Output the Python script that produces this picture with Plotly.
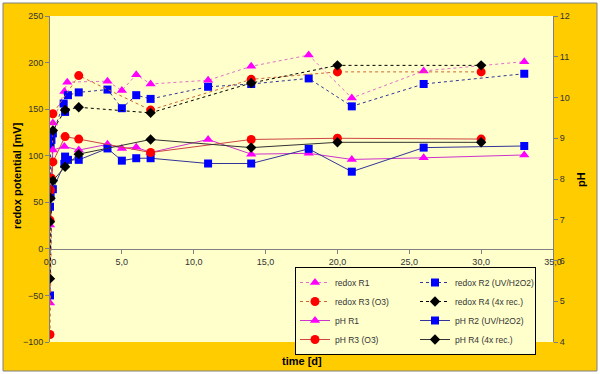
import plotly.graph_objects as go

# ---------------- data ----------------
redox_r1_t = [0, 0.2, 1.0, 1.2, 4, 5, 6, 7, 11, 14, 18, 21, 26, 33]
redox_r1 = [-58, 135, 169, 179, 180, 170, 187, 177, 181, 196, 208, 162, 191, 201]
redox_r2_t = [0, 0.04, 0.1, 0.2, 0.95, 1.05, 1.25, 2, 4, 5, 6, 7, 11, 14, 18, 21, 26, 33]
redox_r2 = [-50, 111, 117, 124, 156, 147, 165, 168, 171, 151, 165, 161, 174, 177, 183, 153, 177, 188]
redox_r3_t = [0, 0.2, 2, 7, 14, 20, 30]
redox_r3 = [-92, 145, 186, 149, 182, 190, 190]
redox_r4_t = [0, 0.2, 1.05, 2, 7, 14, 20, 30]
redox_r4 = [-32, 127, 149, 152, 146, 178, 197, 197]

ph_r1_t = [0, 0.2, 1.0, 2, 4, 5, 6, 7, 11, 14, 18, 21, 26, 33]
ph_r1 = [6.87, 8.71, 8.80, 8.71, 8.85, 8.75, 8.78, 8.65, 8.97, 8.61, 8.63, 8.48, 8.52, 8.59]
ph_r2_t = [0, 0.04, 0.2, 1.0, 1.05, 1.25, 2, 4, 5, 6, 7, 11, 14, 18, 21, 26, 33]
ph_r2 = [7.32, 7.57, 7.75, 8.37, 8.55, 8.47, 8.47, 8.75, 8.45, 8.51, 8.51, 8.38, 8.38, 8.74, 8.18, 8.77, 8.81]
ph_r3_t = [0, 0.04, 0.1, 0.2, 1.05, 2, 7, 14, 20, 30]
ph_r3 = [6.99, 7.73, 8.02, 8.42, 9.04, 8.98, 8.65, 8.97, 9.00, 8.98]
ph_r4_t = [0, 0.04, 0.2, 1.05, 2, 7, 14, 20, 30]
ph_r4 = [6.95, 7.53, 7.96, 8.30, 8.61, 8.97, 8.77, 8.90, 8.90]

names_redox = ["redox R1", "redox R2 (UV/H2O2)", "redox R3 (O3)", "redox R4 (4x rec.)"]
names_ph = ["pH R1", "pH R2 (UV/H2O2)", "pH R3 (O3)", "pH R4 (4x rec.)"]

# ---------------- styling ----------------
W, H = 600, 374
L, R, T, B = 50, 47, 16, 32
PW, PH = W - L - R, H - T - B

def px(x):
    return (x - L) / PW

def py(y):
    return (H - B - y) / PH

marker_colors = ["#FF00FF", "#0000FF", "#FF0000", "#000000"]
symbols = ["triangle-up", "square", "circle", "diamond"]
sizes = [9, 8, 9, 8]
redox_line_colors = ["#E070C8", "#333399", "#CC6633", "#000000"]
ph_line_colors = ["#CC33CC", "#333399", "#CC4444", "#333333"]
legend_cols = ["a", "b", "a", "b"]   # two legend columns

redox_t = [redox_r1_t, redox_r2_t, redox_r3_t, redox_r4_t]
redox_v = [redox_r1, redox_r2, redox_r3, redox_r4]
ph_t = [ph_r1_t, ph_r2_t, ph_r3_t, ph_r4_t]
ph_v = [ph_r1, ph_r2, ph_r3, ph_r4]

fig = go.Figure()
for i in range(4):
    fig.add_trace(go.Scatter(
        x=redox_t[i], y=redox_v[i], name=names_redox[i], mode="lines+markers",
        legendgroup=legend_cols[i],
        line=dict(color=redox_line_colors[i], width=1, dash="dot"),
        marker=dict(symbol=symbols[i], size=sizes[i], color=marker_colors[i],
                    line=dict(width=0)),
        yaxis="y"))
for i in range(4):
    fig.add_trace(go.Scatter(
        x=ph_t[i], y=ph_v[i], name=names_ph[i], mode="lines+markers",
        legendgroup=legend_cols[i],
        line=dict(color=ph_line_colors[i], width=1),
        marker=dict(symbol=symbols[i], size=sizes[i], color=marker_colors[i],
                    line=dict(width=0)),
        yaxis="y2"))

tickfont = dict(family="Liberation Sans, Arial", size=9, color="#333333")
titlefont = dict(family="Liberation Sans, Arial", size=11, color="#000000")

fig.update_layout(
    width=W, height=H, autosize=False,
    margin=dict(l=L, r=R, t=T, b=B, pad=0, autoexpand=False),
    paper_bgcolor="#FFCC00", plot_bgcolor="#FFFFCC",
    separators=", ",
    showlegend=True,
    xaxis=dict(range=[0, 35], dtick=5, tickformat=".1f", anchor="free",
               position=100 / 350, showline=True, linecolor="#808080", linewidth=1,
               ticks="outside", ticklen=4, tickcolor="#808080",
               showgrid=False, zeroline=False, tickfont=tickfont),
    yaxis=dict(range=[-100, 250], dtick=50, showline=True, linecolor="#808080",
               ticks="outside", ticklen=4, tickcolor="#808080",
               showgrid=False, zeroline=False, tickfont=tickfont),
    yaxis2=dict(range=[4, 12], dtick=1, overlaying="y", side="right",
                showline=True, linecolor="#808080", ticks="outside", ticklen=4,
                tickcolor="#808080", showgrid=False, zeroline=False, tickfont=tickfont),
    legend=dict(orientation="h", traceorder="grouped", x=px(295), y=py(267),
                xanchor="left", yanchor="top",
                bgcolor="#FFFFCC", bordercolor="#000000", borderwidth=1,
                font=dict(family="Liberation Sans, Arial", size=8.5, color="#333333"),
                entrywidth=75, entrywidthmode="pixels", itemwidth=30, tracegroupgap=0),
    annotations=[
        dict(text="<b>time [d]</b>", xref="paper", yref="paper", x=px(302), y=py(361),
             showarrow=False, font=titlefont, xanchor="center", yanchor="middle"),
        dict(text="<b>redox potential [mV]</b>", xref="paper", yref="paper", x=px(17), y=py(176),
             showarrow=False, font=titlefont, textangle=-90, xanchor="center", yanchor="middle"),
        dict(text="<b>pH</b>", xref="paper", yref="paper", x=px(581), y=py(180),
             showarrow=False, font=titlefont, textangle=-90, xanchor="center", yanchor="middle"),
    ],
    shapes=[
        dict(type="rect", xref="paper", yref="paper", x0=px(0), x1=px(600), y0=py(374), y1=py(0),
             line=dict(color="#FFFFFF", width=6), fillcolor="rgba(0,0,0,0)", layer="above"),
        dict(type="rect", xref="paper", yref="paper", x0=px(3), x1=px(597), y0=py(371), y1=py(3),
             line=dict(color="#808080", width=1), fillcolor="rgba(0,0,0,0)", layer="above"),
    ],
)

fig.write_html("out.html", config={"displayModeBar": False},
               post_script="document.body.style.margin='0px';")
